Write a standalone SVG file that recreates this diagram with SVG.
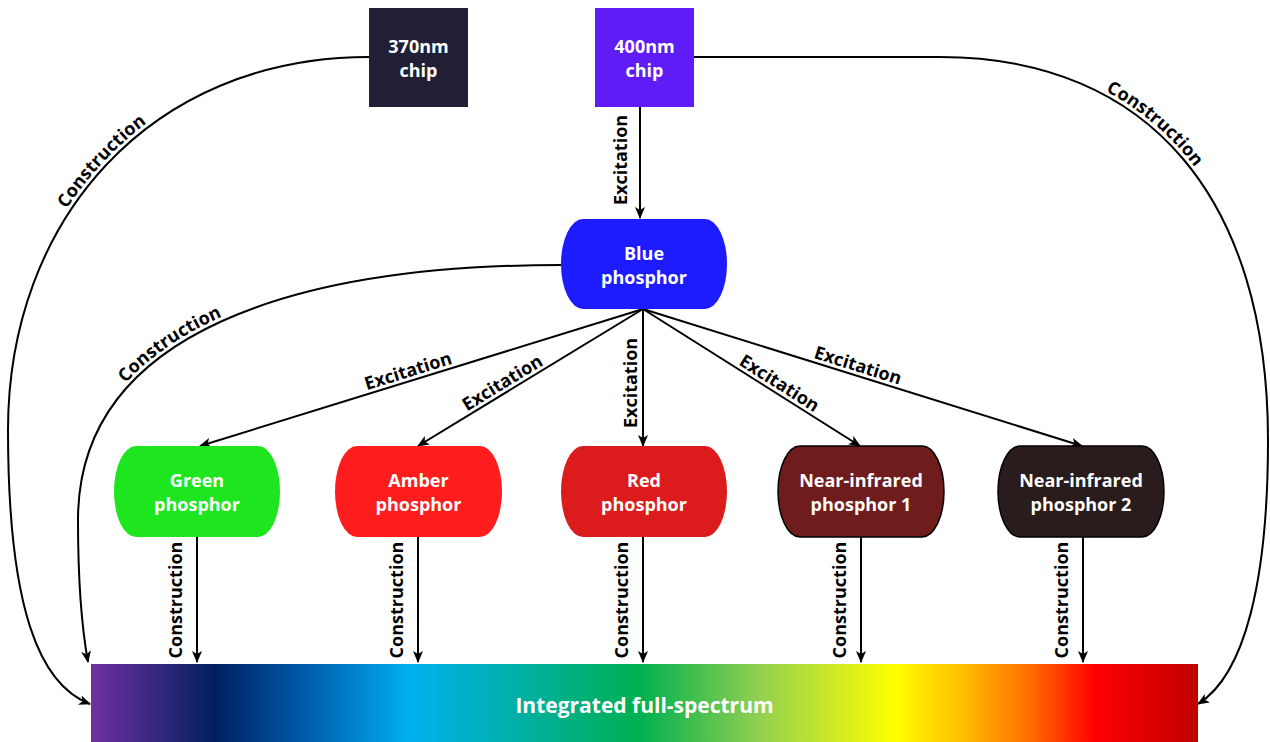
<svg xmlns="http://www.w3.org/2000/svg" width="1270" height="742" viewBox="0 0 1270 742">
<style>
.t{font-family:"Open Sans","Liberation Sans",sans-serif;font-weight:bold;font-size:18px;fill:#fff;text-anchor:middle}
.l{font-family:"Open Sans","Liberation Sans",sans-serif;font-weight:bold;font-size:18px;fill:#000;text-anchor:middle}
.e{fill:none;stroke:#000;stroke-width:2}
.a{marker-end:url(#arr)}
</style>
<defs>
<marker id="arr" viewBox="0 0 12 10" refX="11" refY="5" markerWidth="12" markerHeight="10" markerUnits="userSpaceOnUse" orient="auto">
<path d="M0,0 L12,5 L0,10 L3,5 Z" fill="#000"/>
</marker>
<linearGradient id="spec" x1="91" y1="0" x2="1198" y2="0" gradientUnits="userSpaceOnUse">
<stop offset="0" stop-color="#7030a0"/>
<stop offset="0.112" stop-color="#002060"/>
<stop offset="0.2" stop-color="#0060b0"/>
<stop offset="0.288" stop-color="#00b0f0"/>
<stop offset="0.496" stop-color="#00b050"/>
<stop offset="0.604" stop-color="#92d050"/>
<stop offset="0.726" stop-color="#ffff00"/>
<stop offset="0.785" stop-color="#ffc000"/>
<stop offset="0.85" stop-color="#ff6a00"/>
<stop offset="0.907" stop-color="#ff0000"/>
<stop offset="1" stop-color="#c00000"/>
</linearGradient>
<path id="pL" d="M8,430 C8,220 150,57 369,57"/>
<path id="pB" d="M78,520 C78,330 300,265 561,265"/>
<path id="pR" d="M694,57 L940,57 C1150,57 1268,200 1268,440"/>
<path id="pG" d="M200,446 L643,309"/>
<path id="pA" d="M418,446 L643,309"/>
<path id="pN1" d="M643,309 L860,446"/>
<path id="pN2" d="M643,309 L1082,446"/>
</defs>
<rect width="1270" height="742" fill="#fff"/>

<g id="connectors">
<path class="e a" d="M369,57 C150,57 8,220 8,430 C8,610 40,685 90,704"/>
<path class="e a" d="M561,265 C300,265 78,330 78,520 C78,600 84,640 88,662"/>
<path class="e a" d="M694,57 L940,57 C1150,57 1268,200 1268,440 C1268,580 1245,675 1198,704"/>
<path class="e a" d="M640,107 L640,218"/>
<path class="e a" d="M643,309 L200,446"/>
<path class="e a" d="M643,309 L418,446"/>
<path class="e a" d="M643,309 L643,446"/>
<path class="e a" d="M643,309 L860,446"/>
<path class="e a" d="M643,309 L1082,446"/>
<path class="e a" d="M197,537 L197,662"/>
<path class="e a" d="M418,537 L418,662"/>
<path class="e a" d="M643,537 L643,662"/>
<path class="e a" d="M861,537 L861,662"/>
<path class="e a" d="M1083,537 L1083,662"/>
<text class="l" dy="-4"><textPath href="#pL" startOffset="289">Construction</textPath></text>
<text class="l" dy="-4"><textPath href="#pB" startOffset="205">Construction</textPath></text>
<text class="l" dy="-4"><textPath href="#pR" startOffset="474">Construction</textPath></text>
<text class="l" dy="-4"><textPath href="#pG" startOffset="221">Excitation</textPath></text>
<text class="l" dy="-4"><textPath href="#pA" startOffset="105">Excitation</textPath></text>
<text class="l" dy="-4"><textPath href="#pN1" startOffset="155">Excitation</textPath></text>
<text class="l" dy="-4"><textPath href="#pN2" startOffset="222">Excitation</textPath></text>
<text class="l" transform="translate(627,160) rotate(-90)">Excitation</text>
<text class="l" transform="translate(637,383) rotate(-90)">Excitation</text>
<text class="l" transform="translate(182,600) rotate(-90)">Construction</text>
<text class="l" transform="translate(403,600) rotate(-90)">Construction</text>
<text class="l" transform="translate(628,600) rotate(-90)">Construction</text>
<text class="l" transform="translate(846,600) rotate(-90)">Construction</text>
<text class="l" transform="translate(1068,600) rotate(-90)">Construction</text>
</g>

<g id="chip370">
<rect x="369" y="8" width="99" height="99" fill="#201f35"/>
<text class="t" x="418.5" y="53">370nm</text>
<text class="t" x="418.5" y="77">chip</text>
</g>
<g id="chip400">
<rect x="595" y="8" width="99" height="99" fill="#601cf6"/>
<text class="t" x="644.5" y="53">400nm</text>
<text class="t" x="644.5" y="77">chip</text>
</g>
<g id="blue">
<path d="M583,219 H705 A22,45 0 0 1 705,309 H583 A22,45 0 0 1 583,219 Z" fill="#1c1cff"/>
<text class="t" x="644" y="260">Blue</text>
<text class="t" x="644" y="284">phosphor</text>
</g>
<g id="green">
<path d="M136,446 H258 A22,45.5 0 0 1 258,537 H136 A22,45.5 0 0 1 136,446 Z" fill="#1ee61e"/>
<text class="t" x="197" y="487">Green</text>
<text class="t" x="197" y="511">phosphor</text>
</g>
<g id="amber">
<path d="M357,446 H480 A22,45.5 0 0 1 480,537 H357 A22,45.5 0 0 1 357,446 Z" fill="#ff1c1c"/>
<text class="t" x="418.5" y="487">Amber</text>
<text class="t" x="418.5" y="511">phosphor</text>
</g>
<g id="red">
<path d="M583,446 H705 A22,45.5 0 0 1 705,537 H583 A22,45.5 0 0 1 583,446 Z" fill="#dc1c1c"/>
<text class="t" x="644" y="487">Red</text>
<text class="t" x="644" y="511">phosphor</text>
</g>
<g id="nir1">
<path d="M800,446 H922 A22,45.5 0 0 1 922,537 H800 A22,45.5 0 0 1 800,446 Z" fill="#6e1c1c" stroke="#000" stroke-width="1.5"/>
<text class="t" x="861" y="487">Near-infrared</text>
<text class="t" x="861" y="511">phosphor 1</text>
</g>
<g id="nir2">
<path d="M1020,446 H1142 A22,45.5 0 0 1 1142,537 H1020 A22,45.5 0 0 1 1020,446 Z" fill="#2a1c1c" stroke="#000" stroke-width="1.5"/>
<text class="t" x="1081" y="487">Near-infrared</text>
<text class="t" x="1081" y="511">phosphor 2</text>
</g>
<g id="spectrum">
<rect x="91" y="664" width="1107" height="78" fill="url(#spec)"/>
<text class="t" x="644.5" y="713" style="font-size:21px">Integrated full-spectrum</text>
</g>
</svg>
